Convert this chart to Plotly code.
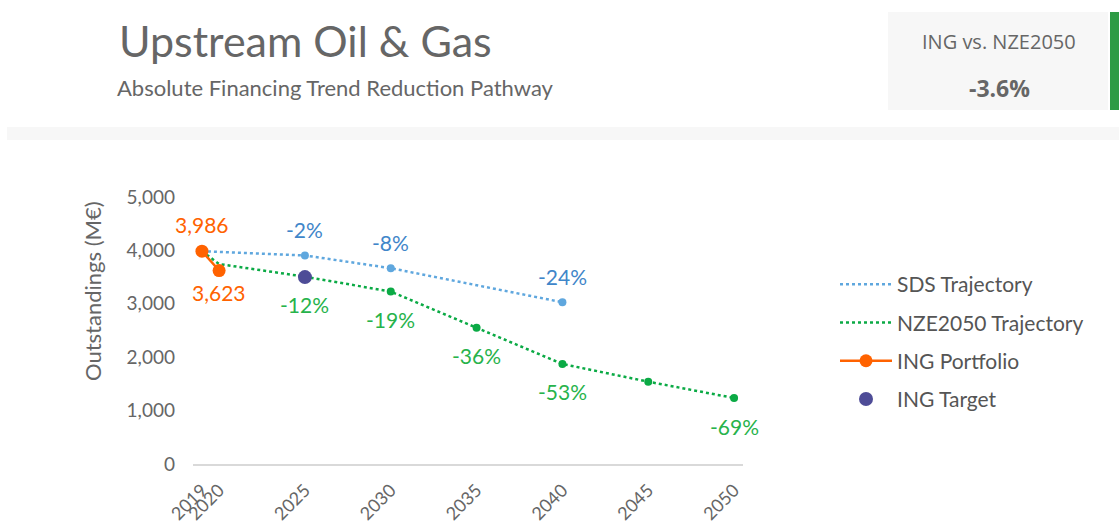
import plotly.graph_objects as go

# ---- data ----
sds_years = [2019, 2025, 2030, 2040]
sds_values = [3986, 3906, 3667, 3029]
sds_labels = ["", "-2%", "-8%", "-24%"]

nze_years = [2019, 2020, 2025, 2030, 2035, 2040, 2045, 2050]
nze_values = [3986, 3745, 3508, 3229, 2551, 1873, 1541, 1236]
nze_labels = ["", "", "-12%", "-19%", "-36%", "-53%", "", "-69%"]

ing_years = [2019, 2020]
ing_values = [3986, 3623]
ing_labels = ["3,986", "3,623"]

target_years = [2025]
target_values = [3500]

tick_years = [2019, 2020, 2025, 2030, 2035, 2040, 2045, 2050]
y_ticks = [0, 1000, 2000, 3000, 4000, 5000]

title = "Upstream Oil & Gas"
subtitle = "Absolute Financing Trend Reduction Pathway"
kpi_label = "ING vs. NZE2050"
kpi_value = "-3.6%"
y_title = "Outstandings (M€)"

# ---- style ----
W, H = 1119, 523
L, R, T, B = 193, 743, 197, 464
FONT = "Lato"
GREY = "#666666"
SDS_C = "#5FA7DE"
SDS_T = "#3F86C9"
NZE_C = "#0BAA45"
NZE_T = "#27B34B"
ING_C = "#FF6200"
TGT_C = "#4E4C97"


def px_x(p):
    return (p - L) / (R - L)


def px_y(p):
    return (B - p) / (B - T)


fig = go.Figure()

fig.add_trace(go.Scatter(x=sds_years, y=sds_values, mode="lines", name="SDS Trajectory",
                         line=dict(color=SDS_C, width=2.5, dash="dot"), legendgroup="a"))
fig.add_trace(go.Scatter(x=sds_years[1:], y=sds_values[1:], mode="markers", showlegend=False,
                         marker=dict(color=SDS_C, size=8), legendgroup="a"))
fig.add_trace(go.Scatter(x=nze_years, y=nze_values, mode="lines", name="NZE2050 Trajectory",
                         line=dict(color=NZE_C, width=2.5, dash="dot"), legendgroup="b"))
nze_mx = [x for x in nze_years if x >= 2025]
nze_my = [v for x, v in zip(nze_years, nze_values) if x >= 2025]
fig.add_trace(go.Scatter(x=nze_mx, y=nze_my, mode="markers", showlegend=False,
                         marker=dict(color=NZE_C, size=8), legendgroup="b"))
fig.add_trace(go.Scatter(x=ing_years, y=ing_values, mode="lines+markers", name="ING Portfolio",
                         line=dict(color=ING_C, width=2.5), marker=dict(color=ING_C, size=13),
                         legendgroup="c"))
fig.add_trace(go.Scatter(x=target_years, y=target_values, mode="markers", name="ING Target",
                         marker=dict(color=TGT_C, size=14), legendgroup="d"))

LBL = 21
ann = []
for x, v, t in zip(sds_years, sds_values, sds_labels):
    if t:
        ann.append(dict(x=x, y=v, text=t, showarrow=False, yshift=26,
                        font=dict(color=SDS_T, size=LBL, family=FONT)))
for x, v, t in zip(nze_years, nze_values, nze_labels):
    if t:
        ann.append(dict(x=x, y=v, text=t, showarrow=False, yshift=-28,
                        font=dict(color=NZE_T, size=LBL, family=FONT)))
for i, (x, v, t) in enumerate(zip(ing_years, ing_values, ing_labels)):
    ann.append(dict(x=x, y=v, text=t, showarrow=False, yshift=27 if i == 0 else -22,
                    font=dict(color=ING_C, size=LBL, family=FONT)))

# header texts
ann.append(dict(xref="paper", yref="paper", x=px_x(117), y=px_y(41), xanchor="left", yanchor="middle",
                text=title, showarrow=False, font=dict(size=43, color=GREY, family=FONT)))
ann.append(dict(xref="paper", yref="paper", x=px_x(115), y=px_y(87), xanchor="left", yanchor="middle",
                text=subtitle, showarrow=False, font=dict(size=22, color=GREY, family=FONT)))
ann.append(dict(xref="paper", yref="paper", x=px_x(999), y=px_y(42), xanchor="center", yanchor="middle",
                text=kpi_label, showarrow=False, font=dict(size=20, color=GREY, family="Open Sans")))
ann.append(dict(xref="paper", yref="paper", x=px_x(999), y=px_y(88), xanchor="center", yanchor="middle",
                text="<b>" + kpi_value + "</b>", showarrow=False,
                font=dict(size=23, color=GREY, family="Open Sans")))
# y-axis title (placed as in the reference, above the plot centre)
ann.append(dict(xref="paper", yref="paper", x=px_x(92), y=px_y(291), xanchor="center", yanchor="middle",
                text=y_title, textangle=-90, showarrow=False,
                font=dict(size=22, color=GREY, family=FONT)))

shapes = [
    dict(type="rect", xref="paper", yref="paper", x0=px_x(888), x1=px_x(1108), y0=px_y(12), y1=px_y(110),
         fillcolor="#F7F7F7", line=dict(width=0), layer="below"),
    dict(type="rect", xref="paper", yref="paper", x0=px_x(1110), x1=px_x(1125), y0=px_y(12), y1=px_y(110),
         fillcolor="#2E9B45", line=dict(width=0), layer="below"),
    dict(type="rect", xref="paper", yref="paper", x0=px_x(7), x1=px_x(1125), y0=px_y(127), y1=px_y(140),
         fillcolor="#F7F7F7", line=dict(width=0), layer="below"),
]

fig.update_layout(
    width=W, height=H,
    margin=dict(l=L, r=W - R, t=T, b=H - B, pad=0, autoexpand=False),
    paper_bgcolor="white", plot_bgcolor="white",
    font=dict(family=FONT, color=GREY),
    annotations=ann, shapes=shapes,
    showlegend=True,
    legend=dict(x=px_x(835), y=px_y(264), xanchor="left", yanchor="top",
                font=dict(size=21, color="#555555", family=FONT),
                tracegroupgap=8, itemwidth=52, bgcolor="rgba(0,0,0,0)"),
    xaxis=dict(range=[2018.48, 2050.52], tickmode="array", tickvals=tick_years,
               ticktext=[str(t) for t in tick_years], tickangle=-45, automargin=False,
               showgrid=False, zeroline=False, showline=True, linecolor="#D9D9D9", linewidth=1.5,
               ticks="", ticklabelstandoff=7, tickfont=dict(size=18, color=GREY, family=FONT)),
    yaxis=dict(range=[0, 5000], tickmode="array", tickvals=y_ticks, automargin=False,
               ticktext=[f"{v:,}" for v in y_ticks], showgrid=False, zeroline=False,
               showline=False, ticks="", ticklabelstandoff=17,
               tickfont=dict(size=19, color=GREY, family=FONT)),
)

fig.write_html("out.html", config={"displayModeBar": False},
               post_script="document.body.style.margin='0';document.body.style.overflow='hidden';")
